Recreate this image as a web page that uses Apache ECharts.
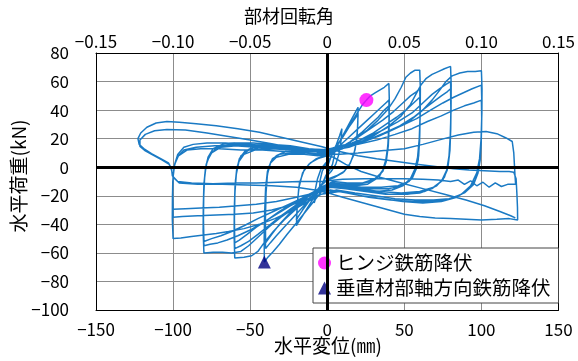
<!DOCTYPE html>
<html>
<head>
<meta charset="utf-8">
<script src="https://cdn.jsdelivr.net/npm/echarts@6/dist/echarts.min.js"></script>
<style>
html, body { margin: 0; padding: 0; background: #fff; }
#chart { width: 578px; height: 361px; }
</style>
</head>
<body>
<div id="chart"></div>
<script>
// Load–displacement hysteresis record, [displacement (mm), load (kN)], in test order.

// small cycles around the origin
const stageSmall = [
  [0,0],[2,6],[4,11],[5,14],[4.6,8],[3.4,2],[1.5,-2],[-1,-6],[-3,-11],[-5,-15],[-4.6,-9],[-3.3,-3],[-1.5,1],[1,4],
  [3,9],[6,16],[8,22],[9.5,27],[9,19],[7.5,9],[5.5,2],[2.5,-3],[-1,-7],[-4,-13],[-7,-20],[-8.5,-25],[-8,-17],[-6.3,-8],[-4,-1],[-1,3],[1,5]
];

// ±20 mm cycles
const stage20 = [
  [4,10],[8,18],[12,26],[16,34],[19,40],[20,42],[19.8,30],[19,18],[17,8],[14,1],[10,-4],[5,-7],[0,-9],
  [-4,-13],[-8,-20],[-12,-27],[-16,-34],[-19,-39],[-20,-41],[-19.5,-28],[-18.5,-15],[-16,-4],[-12,2],[-7,6],[-2,8],[2,9],
  [6,15],[10,21],[14,28],[18,34],[20,37],[19.5,24],[18,12],[15,3],[11,-3],[6,-6],[1,-8],
  [-3,-11],[-8,-18],[-12,-24],[-16,-30],[-19,-35],[-20,-37],[-19.3,-24],[-18,-11],[-15,-2],[-11,3],[-6,6],[0,8]
];

// ±40 mm cycles
const stage40 = [
  [4,12],[8,18],[12,25],[16,32],[20,39],[23,44],[25.4,47],[28,50],[31,52],[34,54],[37,56],[40,58.7],[40.3,45],[40,30],[39.3,15],[38,5],[36,-2],[32,-8],[26,-12],[18,-13],[10,-13],[3,-12],
  [-3,-16],[-8,-23],[-14,-31],[-20,-39],[-26,-47],[-31,-54],[-35,-59],[-38.5,-63],[-40.8,-66.4],[-40.9,-50],[-40.6,-32],[-40,-15],[-38.8,-3],[-36.5,4],[-33,8],[-27,11],[-19,11],[-11,10],[-4,9],
  [2,10],[8,15],[14,21],[20,27],[26,33],[31,38],[35,42],[38,45],[40,47],[40.2,35],[39.7,20],[38.6,8],[37,0],[34,-6],[28,-10],[20,-12],[11,-12],[3,-11],
  [-4,-15],[-10,-21],[-16,-28],[-22,-35],[-28,-42],[-33,-48],[-37,-53],[-40,-57],[-40.3,-42],[-40.1,-25],[-39.4,-10],[-38,0],[-35.5,6],[-31,9],[-23,10],[-14,10],[-6,9],
  [1,9],[8,13],[15,18],[22,24],[28,30],[33,35],[37,40],[40,43],[40.2,30],[39.6,15],[38.3,4],[36,-3],[31,-8],[23,-11],[13,-11],[4,-10],
  [-4,-14],[-11,-19],[-18,-26],[-25,-33],[-31,-40],[-36,-47],[-40,-53],[-40.1,-36],[-39.7,-18],[-38.8,-5],[-36.8,3],[-33,7],[-25,9],[-15,9],[-6,8]
];

// ±60 mm cycles
const stage60 = [
  [2,9],[10,14],[18,20],[26,26],[33,33],[39,40],[44,48],[48,56],[51,63],[54,66],[57,68],[60,68],[60.4,55],[60.3,38],[59.7,20],[58.6,7],[57,-1],[54,-8],[49,-13],[42,-16],[32,-17],[22,-16],[12,-14],[4,-13],
  [-4,-16],[-12,-22],[-20,-29],[-28,-37],[-35,-45],[-41,-53],[-45,-59],[-49,-62],[-54,-63],[-60,-63.5],[-60.4,-48],[-60.3,-30],[-59.8,-13],[-58.8,-2],[-57,6],[-53.5,11],[-48,14],[-40,15],[-30,15],[-20,14],[-10,12],[-2,11],
  [4,12],[12,16],[20,21],[28,27],[36,33],[43,39],[49,45],[54,50],[58,53],[60,55],[60.3,40],[60,22],[59.3,8],[57.8,-1],[55,-8],[49,-13],[40,-15],[28,-15],[16,-14],[5,-12],
  [-4,-15],[-12,-20],[-21,-27],[-30,-34],[-38,-41],[-45,-47],[-51,-52],[-56,-55],[-60,-57],[-60.3,-42],[-60.1,-24],[-59.5,-9],[-58.2,1],[-56,8],[-51,12],[-42,14],[-30,14],[-18,13],[-7,11],
  [3,11],[12,15],[21,19],[30,24],[38,30],[45,35],[51,40],[56,45],[60,49],[60.2,35],[59.9,18],[59,5],[57,-3],[53,-10],[46,-13],[35,-14],[22,-14],[9,-12],
  [-3,-14],[-12,-19],[-22,-25],[-31,-31],[-39,-37],[-46,-42],[-52,-47],[-57,-51],[-60,-53],[-60.2,-36],[-59.9,-18],[-59,-5],[-57.3,4],[-54,9],[-47,12],[-36,13],[-23,12],[-10,11]
];

// ±80 mm cycles
const stage80 = [
  [0,10],[10,13],[20,17],[30,22],[40,29],[48,36],[54,44],[58,52],[61,58],[64,62],[68,65],[72,67],[76,69],[80,70.6],[80.4,58],[80.3,40],[79.8,22],[79,8],[77.5,-2],[74,-10],[68,-15],[60,-18],[50,-19],[38,-19],[25,-17],[12,-15],[2,-14],
  [-6,-18],[-14,-23],[-22,-29],[-30,-35],[-38,-42],[-45,-49],[-51,-55],[-56,-59],[-62,-60],[-68,-59.5],[-74,-59.5],[-80,-60],[-80.5,-45],[-80.4,-28],[-80,-12],[-79,-1],[-77.3,7],[-74,13],[-68,16],[-60,17],[-48,17],[-36,16],[-24,15],[-12,13],[-2,12],
  [6,14],[16,17],[26,21],[36,26],[46,32],[55,38],[62,45],[68,51],[73,55],[77,58],[80,60],[80.3,45],[80.1,27],[79.6,12],[78.4,1],[76,-7],[71,-13],[63,-17],[52,-19],[40,-19],[27,-17],[14,-15],[3,-13],
  [-6,-17],[-15,-22],[-24,-27],[-33,-33],[-42,-39],[-50,-44],[-58,-48],[-65,-51],[-71,-53],[-76,-54],[-80,-55],[-80.4,-40],[-80.2,-22],[-79.6,-8],[-78.5,2],[-76,9],[-71,14],[-62,16],[-50,16],[-37,15],[-24,14],[-11,12],
  [4,13],[15,16],[26,19],[37,24],[47,29],[56,35],[63,41],[69,46],[74,50],[78,53],[80,55],[80.2,40],[79.9,22],[79.2,8],[77.8,-2],[75,-9],[69,-14],[60,-17],[48,-18],[34,-17],[20,-15],[6,-13],
  [-5,-16],[-15,-21],[-25,-26],[-35,-31],[-45,-36],[-54,-41],[-62,-45],[-69,-48],[-75,-50],[-80,-52],[-80.3,-36],[-80.1,-18],[-79.4,-5],[-78,4],[-75,10],[-69,14],[-59,15],[-46,15],[-32,14],[-18,13],[-5,11]
];

// ±100 mm cycles
const stage100 = [
  [4,12],[14,14],[24,18],[34,22],[44,27],[54,33],[62,40],[68,47],[73,54],[77,60],[81,64],[86,66],[91,67],[96,67],[100,67.6],[100.4,55],[100.3,38],[99.8,20],[98.8,6],[97,-4],[93,-13],[87,-19],[79,-22],[69,-23],[57,-23],[44,-22],[31,-20],[18,-18],[6,-16],
  [-4,-19],[-14,-25],[-24,-31],[-34,-36],[-44,-40],[-54,-43],[-64,-45],[-72,-46.5],[-80,-47.5],[-88,-48.5],[-95,-49.5],[-100,-50],[-100.5,-36],[-100.4,-20],[-100,-7],[-99,2],[-97,9],[-93,14],[-87,16],[-78,17],[-66,17],[-53,16],[-40,15],[-27,14],[-14,12],[-3,11],
  [8,15],[18,17],[28,20],[38,24],[48,29],[58,34],[67,40],[75,45],[82,49],[88,52],[94,55],[100,57.5],[100.3,44],[100.1,26],[99.5,11],[98.3,0],[96,-9],[91,-16],[84,-21],[74,-24],[62,-25],[49,-24],[36,-22],[22,-20],[8,-17],
  [-4,-19],[-14,-23],[-25,-27],[-36,-30],[-48,-32],[-60,-33],[-72,-33.5],[-84,-34],[-94,-34.5],[-100,-35],[-100.4,-23],[-100.2,-10],[-99.4,0],[-97.5,7],[-93,12],[-85,14],[-73,15],[-60,15],[-46,14],[-32,13],[-18,12],[-5,11],
  [8,14],[20,16],[32,19],[44,23],[55,27],[65,32],[74,36],[82,40],[89,43],[95,45],[100,47],[100.2,34],[99.9,18],[99.2,5],[97.8,-4],[95,-12],[89,-18],[80,-22],[68,-24],[55,-24],[41,-23],[27,-21],[13,-18],[2,-16],
  [-8,-18],[-20,-21],[-33,-24],[-46,-26],[-58,-27],[-70,-28],[-82,-28.5],[-92,-29],[-100,-29.5],[-100.3,-18],[-100,-6],[-99,2],[-96.5,8],[-91,12],[-82,13],[-70,13],[-56,12],[-42,12],[-28,11],[-14,10],[-3,9]
];

// +125 / −120 mm cycles after strength loss
const stage125 = [
  [8,9],[20,10],[35,11.5],[50,13],[62,16],[74,19.5],[85,22.5],[95,24.5],[103,25],[110,23.5],[116,20.5],[120,18],[121,10],[121.4,2],[121.8,-6],[122.2,-12],
  [117,-12],[113,-13.5],[109,-11],[105,-14],[101,-10.5],[97,-13],[93,-9.5],[89,-12],[85,-9],[80,-10],[72,-9],[62,-8.5],[50,-8],[38,-8],[24,-8],[10,-8.5],
  [-4,-10],[-18,-10],[-32,-10.5],[-46,-11],[-60,-11],[-74,-11.5],[-88,-11],[-97,-10],[-100.5,-6],[-101,-1],[-103,3],[-108,6],[-114,9.5],[-119,13],[-122,16],[-122.8,20],[-121,24],[-117,28],[-111,31],[-104,32],[-96,31.5],[-85,30.5],[-72,29],[-58,27],[-44,24.5],[-30,21],[-16,17.5],[-4,14.5],
  [8,11],[20,8],[32,6],[45,4],[58,2],[70,0.5],[82,-1],[92,-2],[102,-2.5],[112,-3],[118,-3],[121,-3.5],[122.5,-8],[123,-18],[123.4,-28],[123.5,-37],
  [118,-36],[110,-36.5],[100,-37],[90,-36.5],[80,-36],[70,-35.5],[60,-34.5],[50,-33],[40,-30],[30,-27],[20,-24],[10,-21],[2,-18.5],[-8,-16],[-20,-14],
  [-36,-13],[-52,-12.5],[-68,-12],[-84,-12],[-96,-11],[-100,-7],[-101,-2],[-102.5,2],[-107,5],[-113,8.5],[-118,11.5],[-121.5,14.5],[-121.5,19],[-118,23],[-112,25.5],[-104,26.5],[-92,26],[-78,24],[-64,21.5],[-50,19],[-36,16.5],[-22,13.5],[-8,11],
  [4,7],[12,2],[22,-3],[34,-7],[48,-11],[62,-15],[76,-19],[90,-23],[102,-27],[112,-31],[119,-34],[122,-35.5]
];

// yield events
const hingeYield = [[25.4, 47]];
const verticalYield = [[-40.8, -66.4]];

// axis ranges and tick steps
const dispRange = [-150, 150], dispStep = 50;
const rotRange = [-0.15, 0.15], rotStep = 0.05;
const loadRange = [-100, 80], loadStep = 20;

const hysteresis = [].concat(stageSmall, stage20, stage40, stage60, stage80, stage100, stage125);

const FONT = '"Noto Sans CJK JP", "Noto Sans", sans-serif';
const withMinus = s => s.replace('-', '\u2212');
const fmtInt = v => withMinus(String(Math.round(v)));
const fmtRot = v => Math.abs(v) < 1e-9 ? '0' : withMinus(v.toFixed(2));

const gridCol = '#8c8c8c';
const frame = { show: true, onZero: false, lineStyle: { color: '#000', width: 1 } };
const labelStyle = { fontSize: 17, color: '#000', fontFamily: FONT };

const chart = echarts.init(document.getElementById('chart'), null, { renderer: 'canvas' });
chart.setOption({
  animation: false,
  backgroundColor: '#fff',
  grid: { left: 96, right: 15, top: 53, bottom: 51 },
  xAxis: [
    { type: 'value', min: dispRange[0], max: dispRange[1], interval: dispStep, position: 'bottom',
      axisLine: frame, axisTick: { show: false },
      splitLine: { show: true, lineStyle: { color: gridCol, width: 1 } },
      axisLabel: Object.assign({ margin: 11, formatter: fmtInt }, labelStyle) },
    { type: 'value', min: rotRange[0], max: rotRange[1], interval: rotStep, position: 'top',
      axisLine: frame, axisTick: { show: false }, splitLine: { show: false },
      axisLabel: Object.assign({ margin: 3, formatter: fmtRot }, labelStyle) }
  ],
  yAxis: [
    { type: 'value', min: loadRange[0], max: loadRange[1], interval: loadStep, position: 'left',
      axisLine: frame, axisTick: { show: false },
      splitLine: { show: true, lineStyle: { color: gridCol, width: 1 } },
      axisLabel: Object.assign({ margin: 27, formatter: fmtInt }, labelStyle) },
    { type: 'value', min: loadRange[0], max: loadRange[1], interval: loadStep, position: 'right',
      axisLine: frame, axisTick: { show: false }, splitLine: { show: false }, axisLabel: { show: false } }
  ],
  legend: {
    orient: 'vertical', left: 313, top: 248,
    padding: [4, 8, 4, 5], itemGap: 3, itemWidth: 13, itemHeight: 13,
    backgroundColor: '#fff', borderColor: '#444', borderWidth: 1,
    textStyle: { fontSize: 19.5, lineHeight: 22, color: '#000', fontFamily: FONT },
    data: [
      { name: 'ヒンジ鉄筋降伏', icon: 'circle' },
      { name: '垂直材部軸方向鉄筋降伏', icon: 'triangle' }
    ]
  },
  graphic: [
    { type: 'text', left: 'center', top: 7, style: { text: '部材回転角', fontSize: 18, fill: '#000', fontFamily: FONT } },
    { type: 'text', x: 328, y: 346, style: { text: '水平変位(㎜)', fontSize: 19, fill: '#000', fontFamily: FONT, align: 'center', verticalAlign: 'middle' } },
    { type: 'text', x: 19, y: 176, rotation: Math.PI / 2, style: { text: '水平荷重(kN)', fontSize: 19, fill: '#000', fontFamily: FONT, align: 'center', verticalAlign: 'middle' } }
  ],
  series: [
    { type: 'line', data: [], z: 2, silent: true,
      markLine: { silent: true, symbol: 'none', animation: false, label: { show: false },
        lineStyle: { color: '#000', width: 3, type: 'solid' },
        data: [{ xAxis: 0 }, { yAxis: 0 }] } },
    { name: '履歴', type: 'line', data: hysteresis, showSymbol: false, symbol: 'none', z: 3,
      lineStyle: { color: '#1a7ac4', width: 1.5 }, silent: true },
    { name: 'ヒンジ鉄筋降伏', type: 'scatter', data: hingeYield, symbol: 'circle', symbolSize: 14, z: 5,
      itemStyle: { color: '#ff00ff' } },
    { name: '垂直材部軸方向鉄筋降伏', type: 'scatter', data: verticalYield, symbol: 'triangle', symbolSize: 13, z: 5,
      itemStyle: { color: '#000080' } }
  ]
});
</script>
</body>
</html>
